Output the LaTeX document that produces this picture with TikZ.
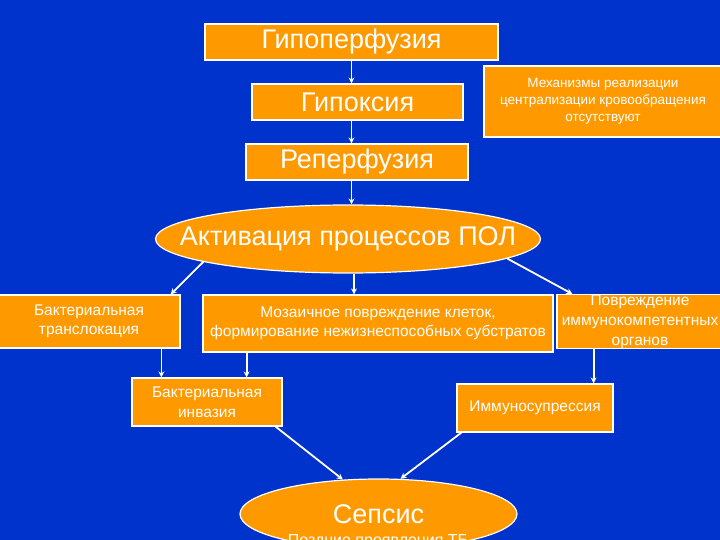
\documentclass[tikz,border=0pt]{standalone}
\usepackage{fontspec}
\setmainfont{Liberation Sans}
\usetikzlibrary{shapes.geometric,arrows.meta}
\definecolor{slideblue}{HTML}{0033CC}
\definecolor{slideorange}{HTML}{FF9900}
\begin{document}
\begin{tikzpicture}[x=1pt,y=-1pt,
        box/.style={rectangle,draw=white,line width=1.2pt,fill=slideorange,
            text=white,inner sep=0pt,align=center},
        oval/.style={ellipse,draw=white,line width=1.2pt,fill=slideorange,
            text=white,inner sep=0pt},
        arr/.style={draw=white,line width=1.8pt,-{Stealth[length=6pt,width=6pt]}},
        big/.style={font=\fontsize{27}{32}\selectfont},
        small/.style={font=\fontsize{15.5}{19.5}\selectfont},
        tiny/.style={font=\fontsize{13.5}{17}\selectfont}]
\clip (0,0) rectangle (720,540);
\fill[slideblue] (0,0) rectangle (720,540);

% upper chain
\node[box,big,minimum width=293pt,minimum height=36pt] (hypoperf) at (351.5,42) {Гипоперфузия};
\node[box,big,minimum width=211pt,minimum height=36pt] (hypox) at (357.5,102) {Гипоксия};
\node[box,tiny,minimum width=238pt,minimum height=71pt] (mech) at (603,101.5)
    {Механизмы реализации\\централизации кровообращения\\отсутствуют\rule[-3pt]{0pt}{0pt}};
\node[box,big,minimum width=222pt,minimum height=36pt] (reperf) at (357,162) {Реперфузия};
\node[oval,big,minimum width=385pt,minimum height=68pt] (activ) at (348,239)
    {\makebox[0pt]{Активация процессов ПОЛ}};

% middle row
\node[box,small,minimum width=182pt,minimum height=53pt] (transloc) at (89,321.5)
    {Бактериальная\\транслокация};
\node[box,small,minimum width=350pt,minimum height=57pt] (mosaic) at (378,323.5)
    {Мозаичное повреждение клеток,\\формирование нежизнеспособных субстратов};
\node[box,small,minimum width=166pt,minimum height=53pt,
    font=\fontsize{15.5}{20}\selectfont] (damage) at (640,321.5)
    {Повреждение\\иммунокомпетентных\\органов};

% lower row
\node[box,small,minimum width=150pt,minimum height=48pt] (invasion) at (207,402)
    {Бактериальная\\инвазия};
\node[box,small,minimum width=156pt,minimum height=48pt] (immuno) at (535,408)
    {Иммуносупрессия};
\node[oval,big,minimum width=277pt,minimum height=70pt] (sepsis) at (378.5,514)
    {\makebox[0pt]{Сепсис}};
\node[text=white,font=\fontsize{16}{19}\selectfont,anchor=base,inner sep=0pt] (late)
    at (378,545) {Поздние проявления ТБ};

\coordinate (invL) at ([xshift=30pt]invasion.north west);
\coordinate (invR) at ([xshift=-36pt]invasion.north east);
\coordinate (immT) at ([xshift=-20pt]immuno.north east);
\coordinate (mosT) at ([xshift=-24pt]mosaic.north);

\draw[arr] (hypoperf.south) -- (hypoperf.south |- hypox.north);
\draw[arr] (hypox.south -| hypoperf.south) -- (reperf.north -| hypoperf.south);
\draw[arr] (reperf.south -| hypoperf.south) -- (hypoperf.south |- activ.north);
\draw[arr] (activ.189) -- ([xshift=-10pt]transloc.north east);
\draw[arr] (activ.south -| mosT) -- (mosT);
\draw[arr] (activ.353) -- ([xshift=16pt]damage.north west);
\draw[arr] (transloc.south -| invL) -- (invL);
\draw[arr] (mosaic.south -| invR) -- (invR);
\draw[arr] (damage.south -| immT) -- (immT);
\draw[arr] ([xshift=-7pt]invasion.south east) -- (sepsis.136);
\draw[arr] ([xshift=5pt]immuno.south west) -- (sepsis.58);
\end{tikzpicture}
\end{document}
